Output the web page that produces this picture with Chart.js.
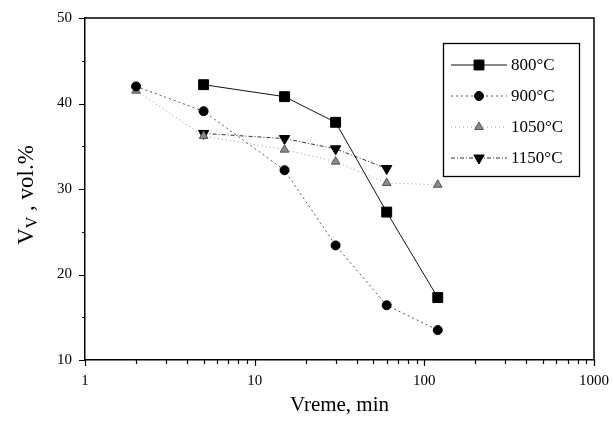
<!DOCTYPE html>
<html>
<head>
<meta charset="utf-8">
<script src="https://cdn.jsdelivr.net/npm/chart.js@4"></script>
<style>
  html, body { margin: 0; padding: 0; background: #fff; }
  #wrap { width: 613px; height: 427px; }
</style>
</head>
<body>
<div id="wrap"><canvas id="chart" width="613" height="427"></canvas></div>
<script>
// time (min) and Vv (vol.%) per temperature
var seriesNames = ['800\u00b0C', '900\u00b0C', '1050\u00b0C', '1150\u00b0C'];

var t800 = [5, 15, 30, 60, 120];
var v800 = [42.2, 40.8, 37.8, 27.3, 17.3];

var t900 = [2, 5, 15, 30, 60, 120];
var v900 = [42.0, 39.1, 32.2, 23.4, 16.4, 13.5];

var t1050 = [2, 5, 15, 30, 60, 120];
var v1050 = [41.5, 36.2, 34.6, 33.2, 30.7, 30.5];

var t1150 = [5, 15, 30, 60];
var v1150 = [36.5, 35.9, 34.7, 32.4];

var xTicks = [1, 10, 100, 1000];
var yTicks = [10, 20, 30, 40, 50];

var serif = 'Liberation Serif';

function pts(xs, ys) {
  return xs.map(function (x, i) { return { x: x, y: ys[i] }; });
}

var datasets = [
  {
    label: seriesNames[0],
    data: pts(t800, v800),
    borderColor: '#111', borderWidth: 1, borderDash: [],
    pointStyle: 'rect', pointRadius: 7, pointBackgroundColor: '#000', pointBorderColor: '#000', pointBorderWidth: 1
  },
  {
    label: seriesNames[1],
    data: pts(t900, v900),
    borderColor: '#555', borderWidth: 1, borderDash: [2, 3],
    pointStyle: 'circle', pointRadius: 4.5, pointBackgroundColor: '#000', pointBorderColor: '#000', pointBorderWidth: 1
  },
  {
    label: seriesNames[2],
    data: pts(t1050, v1050),
    borderColor: '#999', borderWidth: 1, borderDash: [1, 3],
    pointStyle: 'triangle', pointRadius: 5, pointBackgroundColor: '#8a8a8a', pointBorderColor: '#555', pointBorderWidth: 1
  },
  {
    label: seriesNames[3],
    data: pts(t1150, v1150),
    borderColor: '#333', borderWidth: 1, borderDash: [4, 2, 1, 2],
    pointStyle: 'triangle', pointRotation: 180, pointRadius: 6, pointBackgroundColor: '#000', pointBorderColor: '#000', pointBorderWidth: 1
  }
];

// frame, tick marks, legend box and the y title with its subscript
var decorPlugin = {
  id: 'decor',
  afterDraw: function (chart) {
    var ctx = chart.ctx, a = chart.chartArea;
    var xs = chart.scales.x, ys = chart.scales.y;
    ctx.save();
    ctx.strokeStyle = '#000';
    ctx.lineWidth = 1.5;
    ctx.beginPath();
    ctx.moveTo(a.left, a.top);
    ctx.lineTo(a.right, a.top);
    ctx.lineTo(a.right, a.bottom);
    ctx.stroke();

    // x ticks (outside, down)
    ctx.lineWidth = 1.2;
    ctx.beginPath();
    for (var d = 1; d <= 1000; d *= 10) {
      for (var k = 1; k <= 9; k++) {
        var v = d * k;
        if (v > 1000) break;
        var px = Math.round(xs.getPixelForValue(v)) + 0.5;
        var len = k === 1 ? 6 : 4;
        ctx.moveTo(px, a.bottom);
        ctx.lineTo(px, a.bottom + len);
      }
    }
    // y ticks (outside, left)
    for (var y = 10; y <= 50; y += 5) {
      var py = Math.round(ys.getPixelForValue(y)) + 0.5;
      var l = (y % 10 === 0) ? 6 : 3;
      ctx.moveTo(a.left, py);
      ctx.lineTo(a.left - l, py);
    }
    ctx.stroke();

    // legend
    var bx = 443, by = 43, bw = 136, bh = 133;
    ctx.lineWidth = 1.3;
    ctx.strokeRect(bx + 0.5, by + 0.5, bw, bh);
    ctx.font = '17px "' + serif + '"';
    ctx.textBaseline = 'middle';
    ctx.fillStyle = '#000';
    chart.data.datasets.forEach(function (ds, i) {
      var ly = by + 22 + i * 31;
      ctx.save();
      ctx.strokeStyle = ds.borderColor;
      ctx.lineWidth = ds.borderWidth;
      ctx.setLineDash(ds.borderDash);
      ctx.beginPath();
      ctx.moveTo(451, ly);
      ctx.lineTo(507, ly);
      ctx.stroke();
      ctx.setLineDash([]);
      ctx.fillStyle = ds.pointBackgroundColor;
      ctx.strokeStyle = ds.pointBorderColor;
      ctx.lineWidth = ds.pointBorderWidth;
      Chart.helpers.drawPoint(ctx, {
        pointStyle: ds.pointStyle,
        rotation: ds.pointRotation || 0,
        radius: ds.pointRadius,
        borderWidth: ds.pointBorderWidth
      }, 479, ly);
      ctx.restore();
      ctx.fillStyle = '#000';
      ctx.textAlign = 'left';
      ctx.fillText(ds.label, 511, ly + 1);
    });

    // y title: V with subscript V, then ", vol.%"
    ctx.translate(27, 195);
    ctx.rotate(-Math.PI / 2);
    var big = '23px "' + serif + '"', small = '16px "' + serif + '"';
    ctx.font = big; var w1 = ctx.measureText('V').width;
    ctx.font = small; var w2 = ctx.measureText('V').width;
    ctx.font = big; var w3 = ctx.measureText(' , vol.%').width;
    var x0 = -(w1 + w2 + w3) / 2;
    ctx.textAlign = 'left';
    ctx.textBaseline = 'middle';
    ctx.font = big; ctx.fillText('V', x0, 0);
    ctx.font = small; ctx.fillText('V', x0 + w1, 6);
    ctx.font = big; ctx.fillText(' , vol.%', x0 + w1 + w2, 0);
    ctx.restore();
  }
};

new Chart(document.getElementById('chart'), {
  type: 'line',
  data: { datasets: datasets },
  plugins: [decorPlugin],
  options: {
    responsive: false,
    devicePixelRatio: 1,
    animation: false,
    layout: { padding: { left: 0, right: 19, top: 18, bottom: 0 } },
    plugins: { legend: { display: false }, tooltip: { enabled: false } },
    elements: { line: { tension: 0, fill: false } },
    scales: {
      x: {
        type: 'logarithmic', min: 1, max: 1000,
        afterBuildTicks: function (s) { s.ticks = xTicks.map(function (v) { return { value: v }; }); },
        grid: { display: true, drawOnChartArea: false, drawTicks: false },
        border: { display: true, color: '#000', width: 1.5 },
        ticks: {
          autoSkip: false, maxRotation: 0, padding: 12, color: '#000',
          font: { family: serif, size: 15 },
          callback: function (v) { return String(v); }
        },
        title: {
          display: true, text: 'Vreme, min', color: '#000',
          font: { family: serif, size: 21 }, padding: { top: 0, bottom: 9 }
        },
        afterFit: function (s) { s.height = 67; s.paddingLeft = 0; s.paddingRight = 0; }
      },
      y: {
        min: 10, max: 50,
        afterBuildTicks: function (s) { s.ticks = yTicks.map(function (v) { return { value: v }; }); },
        grid: { display: true, drawOnChartArea: false, drawTicks: false },
        border: { display: true, color: '#000', width: 1.5 },
        ticks: { padding: 13, color: '#000', font: { family: serif, size: 15 } },
        afterFit: function (s) { s.width = 85; s.paddingTop = 0; s.paddingBottom = 0; }
      }
    }
  }
});
</script>
</body>
</html>
